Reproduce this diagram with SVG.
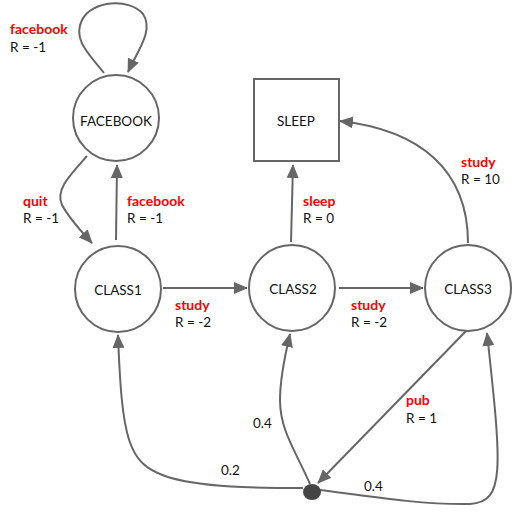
<svg xmlns="http://www.w3.org/2000/svg" width="524" height="516" viewBox="0 0 524 516">
<style>
.node{fill:#fff;stroke:#666;stroke-width:2}
.nt{font-family:Lato,"Open Sans",sans-serif;font-size:13.5px;fill:#111;text-anchor:middle;dominant-baseline:central}
.e{fill:none;stroke:#666;stroke-width:2;marker-end:url(#ah)}
.a{font-family:Lato,"Open Sans",sans-serif;font-size:14px;font-weight:bold;fill:#ff0000}
.r{font-family:Lato,"Open Sans",sans-serif;font-size:13.5px;fill:#111}
</style>
<defs>
<marker id="ah" markerWidth="14" markerHeight="12" refX="13" refY="6" orient="auto" markerUnits="userSpaceOnUse">
<path d="M0,0 L14,6 L0,12 Z" fill="#666"/>
</marker>
</defs>
<g id="connectors">
<path class="e" d="M104,73 C90,55 72,40 82,20 C92,0 130,-2 143,14 C154,30 138,50 128,72"/>
<path class="e" d="M87,156 C70,175 55,190 62,205 C70,220 82,232 92,243"/>
<path class="e" d="M116,240 L117,165"/>
<path class="e" d="M163,288 L247,288"/>
<path class="e" d="M339,288 L423,288"/>
<path class="e" d="M291,242 L293,165"/>
<path class="e" d="M468,243 C468,170 420,130 340,121"/>
<path class="e" d="M467,330 L318,483"/>
<path class="e" d="M303,488 C260,488 200,488 165,476 C128,463 122,440 118,335"/>
<path class="e" d="M310,484 C295,450 280,430 280,400 C280,380 285,355 290,334"/>
<path class="e" d="M320,490 C360,495 420,505 470,504 C505,502 502,470 487,333"/>
<ellipse cx="312" cy="492" rx="9" ry="8" fill="#444"/>
</g>
<g id="FACEBOOK"><circle class="node" cx="116" cy="118" r="43"/><text class="nt" x="116" y="121">FACEBOOK</text></g>
<g id="CLASS1"><circle class="node" cx="118" cy="289" r="43"/><text class="nt" x="118" y="290">CLASS1</text></g>
<g id="CLASS2"><circle class="node" cx="292" cy="288" r="43"/><text class="nt" x="293" y="289">CLASS2</text></g>
<g id="CLASS3"><circle class="node" cx="468" cy="288" r="43"/><text class="nt" x="468" y="289">CLASS3</text></g>
<g id="SLEEP"><rect class="node" x="254" y="79" width="85" height="82"/><text class="nt" x="296" y="121">SLEEP</text></g>
<g id="labels">
<text class="a" x="10" y="34">facebook</text><text class="r" x="10" y="52">R = -1</text>
<text class="a" x="23" y="206">quit</text><text class="r" x="23" y="223">R = -1</text>
<text class="a" x="127" y="206">facebook</text><text class="r" x="127" y="223">R = -1</text>
<text class="a" x="175" y="310">study</text><text class="r" x="175" y="327">R = -2</text>
<text class="a" x="351" y="310">study</text><text class="r" x="351" y="327">R = -2</text>
<text class="a" x="303" y="206">sleep</text><text class="r" x="303" y="223">R = 0</text>
<text class="a" x="461" y="167">study</text><text class="r" x="461" y="184">R = 10</text>
<text class="a" x="406" y="405">pub</text><text class="r" x="406" y="423">R = 1</text>
<text class="r" x="253" y="428">0.4</text>
<text class="r" x="221" y="475">0.2</text>
<text class="r" x="364" y="491">0.4</text>
</g>
</svg>
